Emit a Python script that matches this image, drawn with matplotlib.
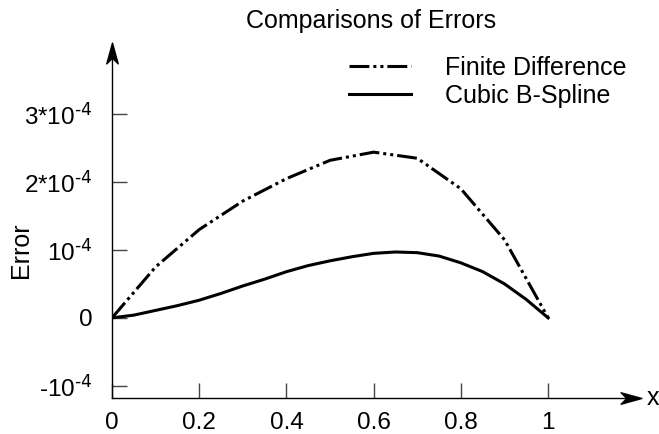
import matplotlib
matplotlib.use("Agg")
import matplotlib.pyplot as plt
import numpy as np
from matplotlib.path import Path

plt.rcParams['font.family'] = ['Liberation Sans', 'DejaVu Sans']
plt.rcParams['mathtext.default'] = 'regular'

# errors in units of 1e-4
x_fd = [0.0, 0.1, 0.2, 0.3, 0.4, 0.5, 0.6, 0.7, 0.8, 0.9, 1.0]
err_fd = [0.0, 0.75, 1.30, 1.72, 2.05, 2.32, 2.44, 2.35, 1.90, 1.15, 0.0]

x_bs = [0.0, 0.05, 0.1, 0.15, 0.2, 0.25, 0.3, 0.35, 0.4, 0.45, 0.5,
        0.55, 0.6, 0.65, 0.7, 0.75, 0.8, 0.85, 0.9, 0.95, 1.0]
err_bs = [0.0, 0.04, 0.11, 0.18, 0.26, 0.36, 0.47, 0.57, 0.68, 0.77, 0.84,
          0.90, 0.95, 0.97, 0.96, 0.91, 0.81, 0.68, 0.50, 0.27, 0.0]

xticks = [0, 0.2, 0.4, 0.6, 0.8, 1]
xtick_labels = ['0', '0.2', '0.4', '0.6', '0.8', '1']
yticks = [-1, 0, 1, 2, 3]
ytick_labels = [r'-10$^{\text{-4}}$', '0', r'10$^{\text{-4}}$',
                r'2*10$^{\text{-4}}$', r'3*10$^{\text{-4}}$']

fig = plt.figure(figsize=(6.59, 4.34), dpi=100)
ax = fig.add_axes([112/659, 36/434, 519/659, 345/434])

ax.plot(x_fd, err_fd, color='black', lw=2.2, dashes=(6.5, 1.3, 1, 1.3, 1, 1.3),
        dash_capstyle='butt', label='Finite Difference')
ax.plot(x_bs, err_bs, color='black', lw=2.2, label='Cubic B-Spline')

ax.set_xlim(0, 1.19)
ax.set_ylim(-1.18, 3.9)

for s in ['top', 'right']:
    ax.spines[s].set_visible(False)
for s in ['left', 'bottom']:
    ax.spines[s].set_linewidth(1.0)

ax.set_xticks(xticks)
ax.set_xticklabels(xtick_labels)
ax.set_yticks(yticks)
ax.set_yticklabels(ytick_labels)
ax.tick_params(axis='both', direction='in', length=11, width=1, color='#444444', labelsize=17.5)
ax.tick_params(axis='y', pad=14)
ax.tick_params(axis='x', pad=10)

# stealth arrow heads
arrow = Path([(1, 0), (-1, 0.55), (-0.45, 0), (-1, -0.55), (1, 0)],
             [Path.MOVETO, Path.LINETO, Path.LINETO, Path.LINETO, Path.CLOSEPOLY])
ax.plot(1, 0, marker=arrow, ms=15, color='black', transform=ax.transAxes, clip_on=False)
up = arrow.transformed(matplotlib.transforms.Affine2D().rotate_deg(90))
ax.plot(0, 1, marker=up, ms=15, color='black', transform=ax.transAxes, clip_on=False)

ax.text(1.03, 0, 'x', transform=ax.transAxes, fontsize=18, va='center', ha='left')
ax.set_ylabel('Error', fontsize=18)
ax.yaxis.set_label_coords(-0.152, (1 + 1.18) / 5.08)

fig.text(0.5 * (112 + 631) / 659, 1 - 28 / 434, 'Comparisons of Errors', fontsize=18,
         ha='center', va='baseline')

ax.legend(loc='upper right', bbox_to_anchor=(0.992, 0.991), frameon=False, fontsize=18,
          handlelength=2.5, handletextpad=1.36, labelspacing=0.16,
          borderpad=0, borderaxespad=0)

fig.savefig('out.png', dpi=100)
